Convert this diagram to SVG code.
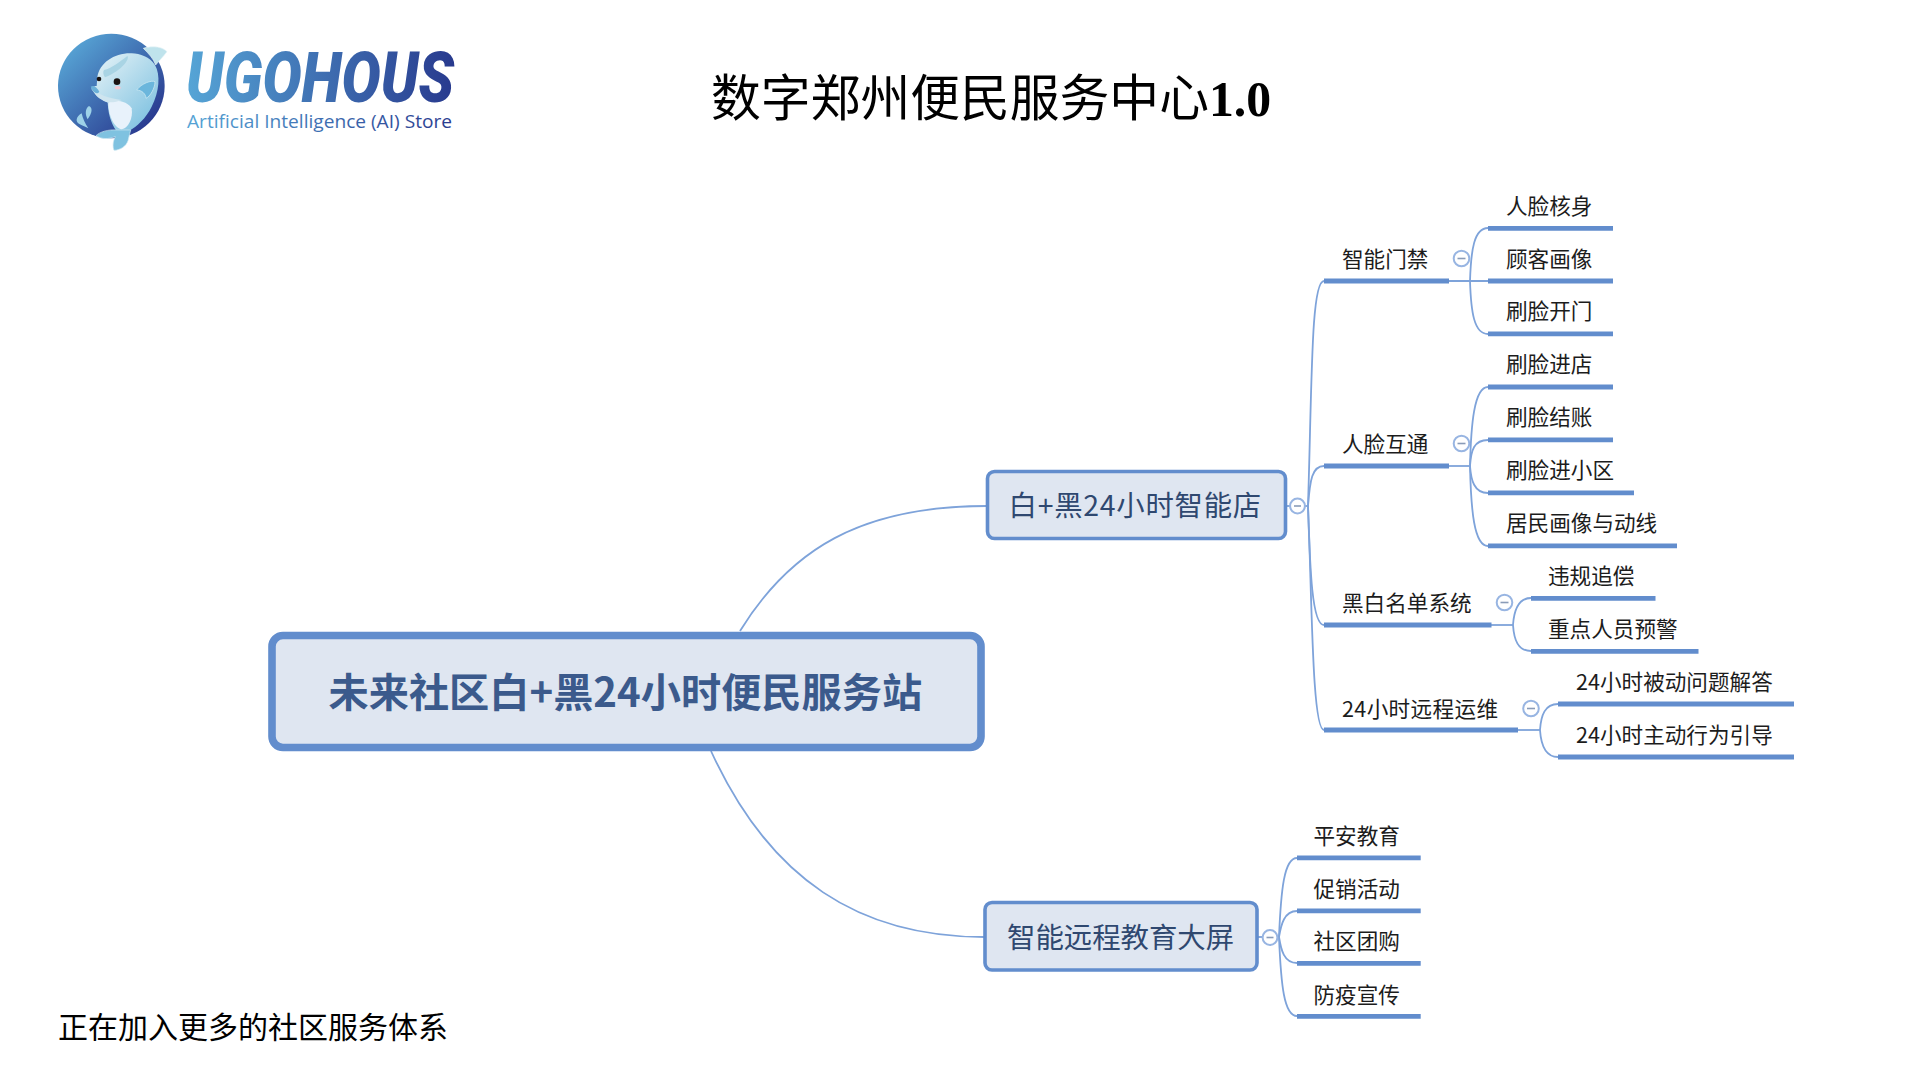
<svg xmlns="http://www.w3.org/2000/svg" width="1920" height="1080" viewBox="0 0 1920 1080">
<defs>
<linearGradient id="lg" gradientUnits="userSpaceOnUse" x1="187" y1="0" x2="454" y2="0"><stop offset="0" stop-color="#56a5d6"/><stop offset="1" stop-color="#283a8e"/></linearGradient>
<linearGradient id="disc" x1="0.1" y1="0.1" x2="0.9" y2="0.9"><stop offset="0" stop-color="#58a6d6"/><stop offset="1" stop-color="#27358c"/></linearGradient>
<linearGradient id="bodyg" x1="0.1" y1="0.05" x2="0.8" y2="0.85"><stop offset="0" stop-color="#e2f1f6"/><stop offset="1" stop-color="#86c5e2"/></linearGradient>
</defs>
<style>
text{font-family:"Noto Sans CJK SC","Noto Sans",sans-serif}
.bg{fill:#fff}
.lk{fill:none;stroke:#7ea3da;stroke-width:1.8}
.bar{stroke:#628dcd;stroke-width:4.8;fill:none}
.col{fill:#fff;stroke:#98b5e2;stroke-width:2}
.minus{stroke:#8a9cb8;stroke-width:1.6}
.leaf{font-size:21.6px;fill:#1c1c1c}
.topic{fill:#dfe6f1;stroke:#628dcd;stroke-width:3.6}
.toptx{font-size:28.4px;fill:#2f4870}
.serif{font-family:"Liberation Serif","Noto Sans CJK SC",serif;fill:#000}
</style>
<rect class="bg" width="1920" height="1080"/>

<g id="logo">
<g transform="translate(40,20) scale(0.3333)">
<ellipse cx="214" cy="198" rx="160" ry="157" fill="url(#disc)"/>
<path d="M310,85 C340,75 370,82 381,95 C370,110 355,125 347,135 C340,115 325,100 310,85 Z" fill="#bfe3ec" stroke="#e8f5f8" stroke-width="2"/>
<path d="M172,172 C178,128 225,98 275,100 C300,100 330,112 345,135 C362,165 358,215 335,260 C318,295 290,320 268,332 L232,335 C222,325 205,295 203,248 C190,240 170,232 158,212 C150,205 158,198 170,198 Z" fill="url(#bodyg)"/>
<path d="M232,330 C205,328 180,335 168,347 C185,358 205,358 226,350 C218,365 218,380 222,391 C240,390 258,380 264,362 L272,330 Z" fill="#7fc2e0" stroke="#cfe9f2" stroke-width="2"/>
<path d="M205,248 C225,235 265,245 275,265 C280,295 265,325 245,328 C225,325 205,290 205,248 Z" fill="#e8f2fb"/>
<path d="M160,205 C175,225 205,235 245,240 C225,248 205,250 190,242 C175,235 160,222 160,205 Z" fill="#cfe5ef"/>
<path d="M192,150 C215,145 240,125 262,108 C270,115 250,150 195,172 C190,165 188,155 192,150 Z" fill="#a9d4e4"/>
<path d="M290,210 C305,190 335,180 345,185 C345,205 330,230 318,235 C318,222 305,210 290,210 Z" fill="#6bb6dc" stroke="#d8eef5" stroke-width="2"/>
<path d="M152,200 C160,195 170,200 178,215 C170,225 160,218 152,200 Z" fill="#6bb0d8"/>
<circle cx="231" cy="185" r="10" fill="#1a1210"/>
<circle cx="177" cy="177" r="7" fill="#1a1210"/>
<ellipse cx="233" cy="203" rx="9" ry="5" fill="#f3c8d0"/>
<path d="M125,280 C108,290 105,305 118,312 C128,318 138,320 145,325 C135,310 128,295 125,280 Z" fill="#9ed2e8"/>
<path d="M147,258 C135,265 135,285 143,298 C152,285 162,265 147,258 Z" fill="#9ed2e8"/>
</g>
<text x="186" y="102" style="font-family:Roboto,'Liberation Sans',sans-serif;font-weight:900;font-style:italic" font-size="70" textLength="268" lengthAdjust="spacingAndGlyphs" fill="url(#lg)">UGOHOUS</text>
<text x="187" y="128" style="font-family:'Open Sans','Noto Sans',sans-serif;font-weight:500" font-size="18" textLength="265" lengthAdjust="spacingAndGlyphs" fill="url(#lg)">Artificial Intelligence (AI) Store</text>
</g>

<text id="title" class="serif" x="711" y="115.5" font-size="49.8">数字郑州便民服务中心<tspan font-weight="700">1.0</tspan></text>
<text id="note" class="serif" x="58" y="1038" font-size="30">正在加入更多的社区服务体系</text>

<g id="connectors">
<path class="lk" d="M740,631 C790,550 860,506 987,506"/>
<path class="lk" d="M711,751 C770,880 860,937 984,937"/>
<path class="lk" d="M1286,506 L1308,506"/>
<path class="lk" d="M1308,506 C1312,380 1311,281 1324,281"/>
<path class="lk" d="M1308,506 C1310,480 1312,466 1324,466"/>
<path class="lk" d="M1308,506 C1310,570 1312,625 1324,625"/>
<path class="lk" d="M1308,506 C1312,600 1312,730 1324,730"/>
<path class="lk" d="M1448,281 L1488,281"/>
<path class="lk" d="M1470,281 C1471,250 1474,228 1488,228"/>
<path class="lk" d="M1470,281 C1471,312 1474,334 1488,334"/>
<path class="lk" d="M1448,466 L1470,466"/>
<path class="lk" d="M1470,466 C1471,425 1474,387 1488,387"/>
<path class="lk" d="M1470,466 C1471,450 1474,440 1488,440"/>
<path class="lk" d="M1470,466 C1471,480 1474,493 1488,493"/>
<path class="lk" d="M1470,466 C1471,510 1474,546 1488,546"/>
<path class="lk" d="M1491,625 L1513,625"/>
<path class="lk" d="M1513,625 C1514,610 1518,598 1531,598"/>
<path class="lk" d="M1513,625 C1514,640 1518,651 1531,651"/>
<path class="lk" d="M1518,730 L1540,730"/>
<path class="lk" d="M1540,730 C1541,715 1545,704 1558,704"/>
<path class="lk" d="M1540,730 C1541,745 1545,757 1558,757"/>
<path class="lk" d="M1258,937 L1279,937"/>
<path class="lk" d="M1279,937 C1281,890 1284,858 1297,858"/>
<path class="lk" d="M1279,937 C1281,925 1284,911 1297,911"/>
<path class="lk" d="M1279,937 C1281,950 1284,963 1297,963"/>
<path class="lk" d="M1279,937 C1281,985 1284,1016 1297,1016"/>
</g>

<g id="root">
<rect x="272" y="635.5" width="709" height="112" rx="11" fill="#dfe6f1" stroke="#628dcd" stroke-width="7.6"/>
<text x="328.5" y="707" font-size="40.2" font-weight="700" fill="#3b5a8c">未来社区白+黑24小时便民服务站</text>
</g>
<g id="n-store">
<rect class="topic" x="987.5" y="471.5" width="298" height="67" rx="7"/>
<text class="toptx" x="1008.5" y="515.5" letter-spacing="0.75">白+黑24小时智能店</text>
<circle class="col" cx="1297.5" cy="506" r="7.4"/><line class="minus" x1="1294" y1="506" x2="1301" y2="506"/>
</g>
<g id="n-screen">
<rect class="topic" x="985" y="902.5" width="272" height="67.5" rx="7"/>
<text class="toptx" x="1007" y="947.5">智能远程教育大屏</text>
<circle class="col" cx="1270" cy="937.5" r="7.4"/><line class="minus" x1="1266.5" y1="937.5" x2="1273.5" y2="937.5"/>
</g>

<g id="b1"><text class="leaf" x="1342" y="266.7">智能门禁</text><line class="bar" x1="1324" y1="281" x2="1449" y2="281"/><circle class="col" cx="1461.5" cy="258.5" r="7.8"/><line class="minus" x1="1457.5" y1="258.5" x2="1465.5" y2="258.5"/></g>
<g id="b2"><text class="leaf" x="1342" y="451.7">人脸互通</text><line class="bar" x1="1324" y1="466" x2="1449" y2="466"/><circle class="col" cx="1461.5" cy="443.5" r="7.8"/><line class="minus" x1="1457.5" y1="443.5" x2="1465.5" y2="443.5"/></g>
<g id="b3"><text class="leaf" x="1342" y="610.7">黑白名单系统</text><line class="bar" x1="1324" y1="625" x2="1491.5" y2="625"/><circle class="col" cx="1504.5" cy="602.5" r="7.8"/><line class="minus" x1="1500.5" y1="602.5" x2="1508.5" y2="602.5"/></g>
<g id="b4"><text class="leaf" x="1342" y="716.5" letter-spacing="0.35">24小时远程运维</text><line class="bar" x1="1324" y1="730" x2="1518" y2="730"/><circle class="col" cx="1531" cy="708.5" r="7.8"/><line class="minus" x1="1527" y1="708.5" x2="1535" y2="708.5"/></g>

<g id="l11"><text class="leaf" x="1506" y="214">人脸核身</text><line class="bar" x1="1488" y1="228.3" x2="1613" y2="228.3"/></g>
<g id="l12"><text class="leaf" x="1506" y="266.7">顾客画像</text><line class="bar" x1="1488" y1="281" x2="1613" y2="281"/></g>
<g id="l13"><text class="leaf" x="1506" y="318.7">刷脸开门</text><line class="bar" x1="1488" y1="333.8" x2="1613" y2="333.8"/></g>
<g id="l21"><text class="leaf" x="1506" y="372">刷脸进店</text><line class="bar" x1="1488" y1="387" x2="1613" y2="387"/></g>
<g id="l22"><text class="leaf" x="1506" y="425">刷脸结账</text><line class="bar" x1="1488" y1="439.8" x2="1613" y2="439.8"/></g>
<g id="l23"><text class="leaf" x="1506" y="477.7">刷脸进小区</text><line class="bar" x1="1488" y1="492.8" x2="1634" y2="492.8"/></g>
<g id="l24"><text class="leaf" x="1506" y="531">居民画像与动线</text><line class="bar" x1="1488" y1="545.8" x2="1677" y2="545.8"/></g>
<g id="l31"><text class="leaf" x="1548" y="584.4">违规追偿</text><line class="bar" x1="1531" y1="598.3" x2="1655.5" y2="598.3"/></g>
<g id="l32"><text class="leaf" x="1548" y="637">重点人员预警</text><line class="bar" x1="1531" y1="651.3" x2="1698.5" y2="651.3"/></g>
<g id="l41"><text class="leaf" x="1576" y="690">24小时被动问题解答</text><line class="bar" x1="1558" y1="704" x2="1794" y2="704"/></g>
<g id="l42"><text class="leaf" x="1576" y="743">24小时主动行为引导</text><line class="bar" x1="1558" y1="757" x2="1794" y2="757"/></g>
<g id="s1"><text class="leaf" x="1313.5" y="844">平安教育</text><line class="bar" x1="1297" y1="857.8" x2="1420.7" y2="857.8"/></g>
<g id="s2"><text class="leaf" x="1313.5" y="897">促销活动</text><line class="bar" x1="1297" y1="910.8" x2="1420.7" y2="910.8"/></g>
<g id="s3"><text class="leaf" x="1313.5" y="949.3">社区团购</text><line class="bar" x1="1297" y1="963.4" x2="1420.7" y2="963.4"/></g>
<g id="s4"><text class="leaf" x="1313.5" y="1002.5">防疫宣传</text><line class="bar" x1="1297" y1="1016.4" x2="1420.7" y2="1016.4"/></g>
</svg>
